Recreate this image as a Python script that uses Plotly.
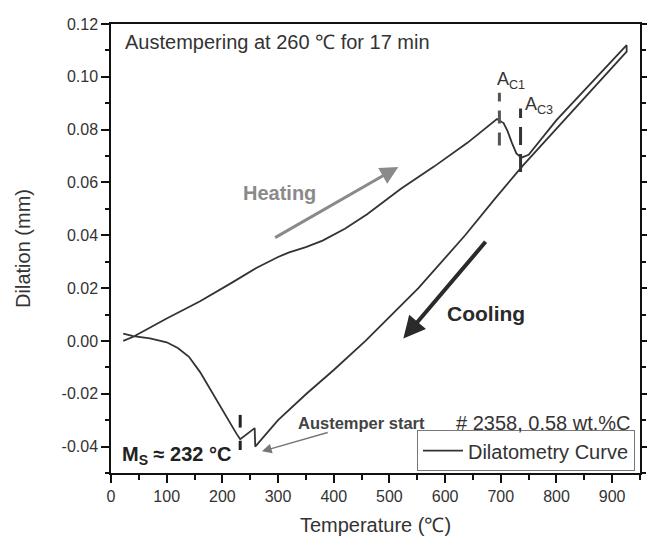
import plotly.graph_objects as go

# ---- data ----
heat_T = [22, 40, 100, 160, 215, 260, 300, 320, 350, 380, 420, 460, 520, 580, 640, 693,
          705, 712, 720, 728, 737, 750, 800, 850, 900, 926]
heat_D = [0.0000, 0.0016, 0.0085, 0.0150, 0.0218, 0.0275, 0.0318, 0.0335, 0.0355, 0.0380,
          0.0425, 0.0480, 0.0575, 0.0660, 0.0750, 0.0840,
          0.0825, 0.0795, 0.0750, 0.0710, 0.0694, 0.0705, 0.0836, 0.0948, 0.1061, 0.1120]
cool_T = [926, 850, 800, 740, 690, 636, 552, 457, 400, 351, 300, 259]
cool_D = [0.1095, 0.0920, 0.0805, 0.0665, 0.0540, 0.0400, 0.0200, 0.0000, -0.0110, -0.0200,
          -0.0300, -0.0400]
hold_T = [259, 258, 232]
hold_D = [-0.0400, -0.0330, -0.0372]
quench_T = [232, 225, 215, 200, 180, 160, 140, 120, 100, 70, 40, 22]
quench_D = [-0.0372, -0.0350, -0.0315, -0.0262, -0.0190, -0.0118, -0.0060, -0.0027, -0.0005,
            0.0010, 0.0018, 0.0028]

AC1_T = 697.5
AC3_T = 735.5
MS_T = 232

x_ticks = [0, 100, 200, 300, 400, 500, 600, 700, 800, 900]
x_ticklabels = ["0", "100", "200", "300", "400", "500", "600", "700", "800", "900"]
y_ticks = [-0.04, -0.02, 0.00, 0.02, 0.04, 0.06, 0.08, 0.10, 0.12]
y_ticklabels = ["-0.04", "-0.02", "0.00", "0.02", "0.04", "0.06", "0.08", "0.10", "0.12"]

T_all = heat_T + cool_T + hold_T[1:] + quench_T[1:]
D_all = heat_D + cool_D + hold_D[1:] + quench_D[1:]

FONT = "Liberation Sans, Arial, sans-serif"
DARK = "#333333"

fig = go.Figure()
fig.add_trace(go.Scatter(x=T_all, y=D_all, mode="lines", name="Dilatometry Curve",
                         line=dict(color=DARK, width=1.8)))

# dashed markers for Ac1, Ac3, Ms
fig.add_shape(type="line", x0=AC1_T, x1=AC1_T, y0=0.074, y1=0.094, xref="x", yref="y",
              line=dict(color="#555555", width=3, dash="13px,9px"))
fig.add_shape(type="line", x0=AC3_T, x1=AC3_T, y0=0.064, y1=0.088, xref="x", yref="y",
              line=dict(color="#333333", width=3, dash="18px,9px"))
fig.add_shape(type="line", x0=MS_T, x1=MS_T, y0=-0.0328, y1=-0.0280, xref="x", yref="y",
              line=dict(color="#222222", width=3))
fig.add_shape(type="line", x0=MS_T, x1=MS_T, y0=-0.0413, y1=-0.0378, xref="x", yref="y",
              line=dict(color="#222222", width=3))

ann = []
ann.append(dict(x=22, y=0.1133, text="Austempering at 260 ℃ for 17 min", xanchor="left",
                yanchor="middle", showarrow=False, font=dict(size=20, color="#333")))
ann.append(dict(x=690, y=0.0985, text="A<sub>C1</sub>", xanchor="left", yanchor="middle",
                showarrow=False, font=dict(size=18, color="#333")))
ann.append(dict(x=740, y=0.089, text="A<sub>C3</sub>", xanchor="left", yanchor="middle",
                showarrow=False, font=dict(size=18, color="#333")))
ann.append(dict(x=302, y=0.0559, text="<b>Heating</b>", showarrow=False,
                font=dict(size=20, color="#8a8a8a")))
ann.append(dict(x=673, y=0.0105, text="<b>Cooling</b>", showarrow=False,
                font=dict(size=21, color="#2a2a2a")))
# "Austemper start" label with its arrow pointing at the start of the isothermal hold
ann.append(dict(x=271, y=-0.0418, ax=449, ay=-0.0311, axref="x", ayref="y",
                text="<b>Austemper start</b>", showarrow=True, arrowhead=2, arrowsize=1.3,
                arrowwidth=1.5, arrowcolor="#777", standoff=0, borderpad=0,
                font=dict(size=16.5, color="#444")))
ann.append(dict(x=938, y=-0.0312, text="# 2358, 0.58 wt.%C", xanchor="right",
                showarrow=False, font=dict(size=20, color="#333")))
ann.append(dict(x=16, y=-0.0432, text="<b>M<sub>S</sub> ≈ 232 °C</b>", xanchor="left",
                showarrow=False, font=dict(size=20, color="#222")))
# heating / cooling direction arrows
ann.append(dict(x=516, y=0.0659, ax=292, ay=0.0388, axref="x", ayref="y", text="",
                showarrow=True, arrowhead=2, arrowsize=1.2, arrowwidth=3, arrowcolor="#8a8a8a"))
ann.append(dict(x=525, y=0.0009, ax=675, ay=0.0381, axref="x", ayref="y", text="",
                showarrow=True, arrowhead=2, arrowsize=1.1, arrowwidth=4, arrowcolor="#2a2a2a"))
for a in ann:
    a.setdefault("xref", "x")
    a.setdefault("yref", "y")
fig.update_layout(annotations=ann)

axis_common = dict(showgrid=False, zeroline=False, showline=True, linecolor="#111",
                   linewidth=1.5, ticks="outside", tickcolor="#111", tickwidth=1.5,
                   ticklen=8, automargin=False,
                   tickfont=dict(size=16, color="#333", family=FONT))

fig.update_xaxes(range=[0, 950], tickmode="array", tickvals=x_ticks, ticktext=x_ticklabels,
                 mirror=True,
                 minor=dict(dtick=50, tick0=0, ticks="outside", ticklen=5, tickwidth=1.5,
                            tickcolor="#111"),
                 title=dict(text="Temperature (℃)", font=dict(size=20, color="#333", family=FONT),
                            standoff=14),
                 **axis_common)
fig.update_yaxes(range=[-0.05, 0.12], tickmode="array", tickvals=y_ticks, ticktext=y_ticklabels,
                 mirror="allticks",
                 minor=dict(dtick=0.01, tick0=0, ticks="outside", ticklen=4, tickwidth=1.5,
                            tickcolor="#111"),
                 title=dict(text="Dilation (mm)", font=dict(size=20, color="#333", family=FONT),
                            standoff=26),
                 **axis_common)

fig.update_layout(
    width=647, height=539,
    margin=dict(l=111, r=7, t=24, b=66),
    paper_bgcolor="white", plot_bgcolor="white",
    font=dict(family=FONT, color="#333"),
    showlegend=True,
    legend=dict(x=0.9905, y=0.004, xanchor="right", yanchor="bottom",
                bgcolor="white", bordercolor="#777", borderwidth=1,
                font=dict(size=20, color="#333", family=FONT),
                tracegroupgap=0, itemwidth=40),
)

fig.write_html("out.html")
